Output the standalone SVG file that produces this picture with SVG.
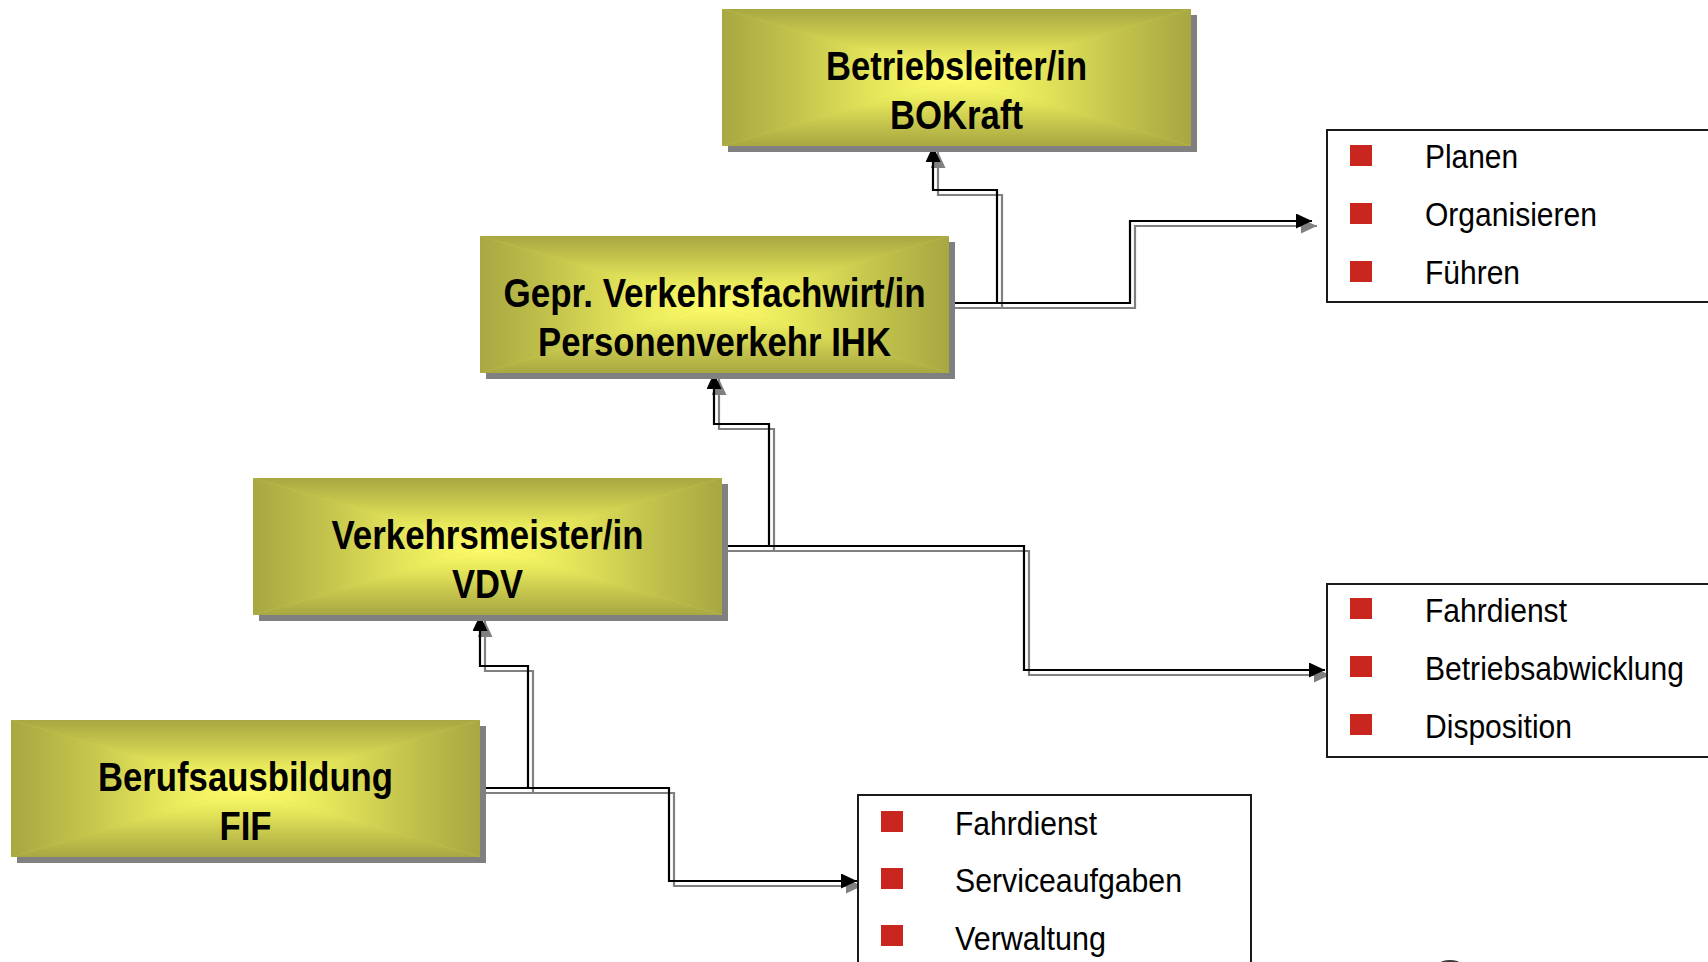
<svg xmlns="http://www.w3.org/2000/svg" xmlns:xlink="http://www.w3.org/1999/xlink" width="1708" height="962" viewBox="0 0 1708 962">
<style>
.shadow{fill:#808080}
.bt{font-family:"Liberation Sans",Arial,sans-serif;font-weight:bold;font-size:40px;fill:#000;text-anchor:middle}
.lt{font-family:"Liberation Sans",Arial,sans-serif;font-size:32.5px;fill:#000}
.list{fill:#fff;stroke:#1a1a1a;stroke-width:2}
.bul{fill:#c9261f}
.cb{fill:none;stroke:#000;stroke-width:2.2;marker-end:url(#ab)}
.cg{fill:none;stroke:#808080;stroke-width:2.2;marker-end:url(#ag)}
</style>
<defs>
<linearGradient id="gT" x1="0" y1="0" x2="0" y2="1"><stop offset="0" stop-color="#a8a742"/><stop offset="0.3" stop-color="#c2c24c"/><stop offset="0.65" stop-color="#e6e65b"/><stop offset="1" stop-color="#ffff6b"/></linearGradient>
<linearGradient id="gB" x1="0" y1="1" x2="0" y2="0"><stop offset="0" stop-color="#a8a742"/><stop offset="0.3" stop-color="#c2c24c"/><stop offset="0.65" stop-color="#e6e65b"/><stop offset="1" stop-color="#ffff6b"/></linearGradient>
<linearGradient id="gL" x1="0" y1="0" x2="1" y2="0"><stop offset="0" stop-color="#a8a742"/><stop offset="0.3" stop-color="#c2c24c"/><stop offset="0.65" stop-color="#e6e65b"/><stop offset="1" stop-color="#ffff6b"/></linearGradient>
<linearGradient id="gR" x1="1" y1="0" x2="0" y2="0"><stop offset="0" stop-color="#a8a742"/><stop offset="0.3" stop-color="#c2c24c"/><stop offset="0.65" stop-color="#e6e65b"/><stop offset="1" stop-color="#ffff6b"/></linearGradient>
<g id="boxfill">
<rect width="469" height="137" fill="#d4d452"/>
<polygon points="0,0 469,0 234.5,68.5" fill="url(#gT)"/>
<polygon points="0,137 469,137 234.5,68.5" fill="url(#gB)"/>
<polygon points="0,0 234.5,68.5 0,137" fill="url(#gL)"/>
<polygon points="469,0 234.5,68.5 469,137" fill="url(#gR)"/>
</g>
<marker id="ab" markerUnits="userSpaceOnUse" markerWidth="16" markerHeight="15" refX="16" refY="7.5" orient="auto" viewBox="0 0 16 15"><path d="M0,0 L16,7.5 L0,15 z" fill="#000"/></marker>
<marker id="ag" markerUnits="userSpaceOnUse" markerWidth="16" markerHeight="15" refX="16" refY="7.5" orient="auto" viewBox="0 0 16 15"><path d="M0,0 L16,7.5 L0,15 z" fill="#808080"/></marker>
</defs>
<rect width="1708" height="962" fill="#fff"/>

<g id="connectors">
<path class="cg" d="M954 308 H1135 V226 H1317"/>
<path class="cg" d="M954 308 H1002 V195 H938 V152"/>
<path class="cg" d="M727 551 H774 V429 H719 V379"/>
<path class="cg" d="M727 551 H1029 V675 H1330"/>
<path class="cg" d="M485 793 H533 V671 H485 V621"/>
<path class="cg" d="M485 793 H674 V886 H862"/>
<path class="cb" d="M949 303 H1130 V221 H1312"/>
<path class="cb" d="M949 303 H997 V190 H933 V146"/>
<path class="cb" d="M722 546 H769 V424 H714 V373"/>
<path class="cb" d="M722 546 H1024 V670 H1325"/>
<path class="cb" d="M480 788 H528 V666 H480 V615"/>
<path class="cb" d="M480 788 H669 V881 H857"/>
</g>

<g id="node-betriebsleiter">
<rect class="shadow" x="728" y="15" width="469" height="137"/>
<use xlink:href="#boxfill" href="#boxfill" x="722" y="9"/>
<text class="bt" x="956.5" y="79.5" textLength="261" lengthAdjust="spacingAndGlyphs">Betriebsleiter/in</text>
<text class="bt" x="956.5" y="129" textLength="133" lengthAdjust="spacingAndGlyphs">BOKraft</text>
</g>

<g id="node-verkehrsfachwirt">
<rect class="shadow" x="486" y="242" width="469" height="137"/>
<use xlink:href="#boxfill" href="#boxfill" x="480" y="236"/>
<text class="bt" x="714.5" y="306.5" textLength="422" lengthAdjust="spacingAndGlyphs">Gepr. Verkehrsfachwirt/in</text>
<text class="bt" x="714.5" y="356" textLength="353" lengthAdjust="spacingAndGlyphs">Personenverkehr IHK</text>
</g>

<g id="node-verkehrsmeister">
<rect class="shadow" x="259" y="484" width="469" height="137"/>
<use xlink:href="#boxfill" href="#boxfill" x="253" y="478"/>
<text class="bt" x="487.5" y="548.5" textLength="312" lengthAdjust="spacingAndGlyphs">Verkehrsmeister/in</text>
<text class="bt" x="487.5" y="598" textLength="71" lengthAdjust="spacingAndGlyphs">VDV</text>
</g>

<g id="node-berufsausbildung">
<rect class="shadow" x="17" y="726" width="469" height="137"/>
<use xlink:href="#boxfill" href="#boxfill" x="11" y="720"/>
<text class="bt" x="245.5" y="790.5" textLength="295" lengthAdjust="spacingAndGlyphs">Berufsausbildung</text>
<text class="bt" x="245.5" y="840" textLength="52" lengthAdjust="spacingAndGlyphs">FIF</text>
</g>

<g id="list-fuehrung">
<rect class="list" x="1327" y="130" width="400" height="172"/>
<rect class="bul" x="1350" y="145" width="22" height="21"/>
<rect class="bul" x="1350" y="203" width="22" height="21"/>
<rect class="bul" x="1350" y="261" width="22" height="21"/>
<text class="lt" x="1425" y="168" textLength="93" lengthAdjust="spacingAndGlyphs">Planen</text>
<text class="lt" x="1425" y="226" textLength="172" lengthAdjust="spacingAndGlyphs">Organisieren</text>
<text class="lt" x="1425" y="284" textLength="95" lengthAdjust="spacingAndGlyphs">Führen</text>
</g>

<g id="list-betrieb">
<rect class="list" x="1327" y="584" width="400" height="173"/>
<rect class="bul" x="1350" y="598" width="22" height="21"/>
<rect class="bul" x="1350" y="656" width="22" height="21"/>
<rect class="bul" x="1350" y="714" width="22" height="21"/>
<text class="lt" x="1425" y="622" textLength="142" lengthAdjust="spacingAndGlyphs">Fahrdienst</text>
<text class="lt" x="1425" y="680" textLength="259" lengthAdjust="spacingAndGlyphs">Betriebsabwicklung</text>
<text class="lt" x="1425" y="738" textLength="147" lengthAdjust="spacingAndGlyphs">Disposition</text>
</g>

<g id="list-service">
<rect class="list" x="858" y="795" width="393" height="200"/>
<rect class="bul" x="881" y="811" width="22" height="21"/>
<rect class="bul" x="881" y="868" width="22" height="21"/>
<rect class="bul" x="881" y="925" width="22" height="21"/>
<text class="lt" x="955" y="835" textLength="142" lengthAdjust="spacingAndGlyphs">Fahrdienst</text>
<text class="lt" x="955" y="892" textLength="227" lengthAdjust="spacingAndGlyphs">Serviceaufgaben</text>
<text class="lt" x="955" y="950" textLength="151" lengthAdjust="spacingAndGlyphs">Verwaltung</text>
</g>

<ellipse cx="1450" cy="963.5" rx="10" ry="3.5" fill="#3a3a3a"/>
</svg>
